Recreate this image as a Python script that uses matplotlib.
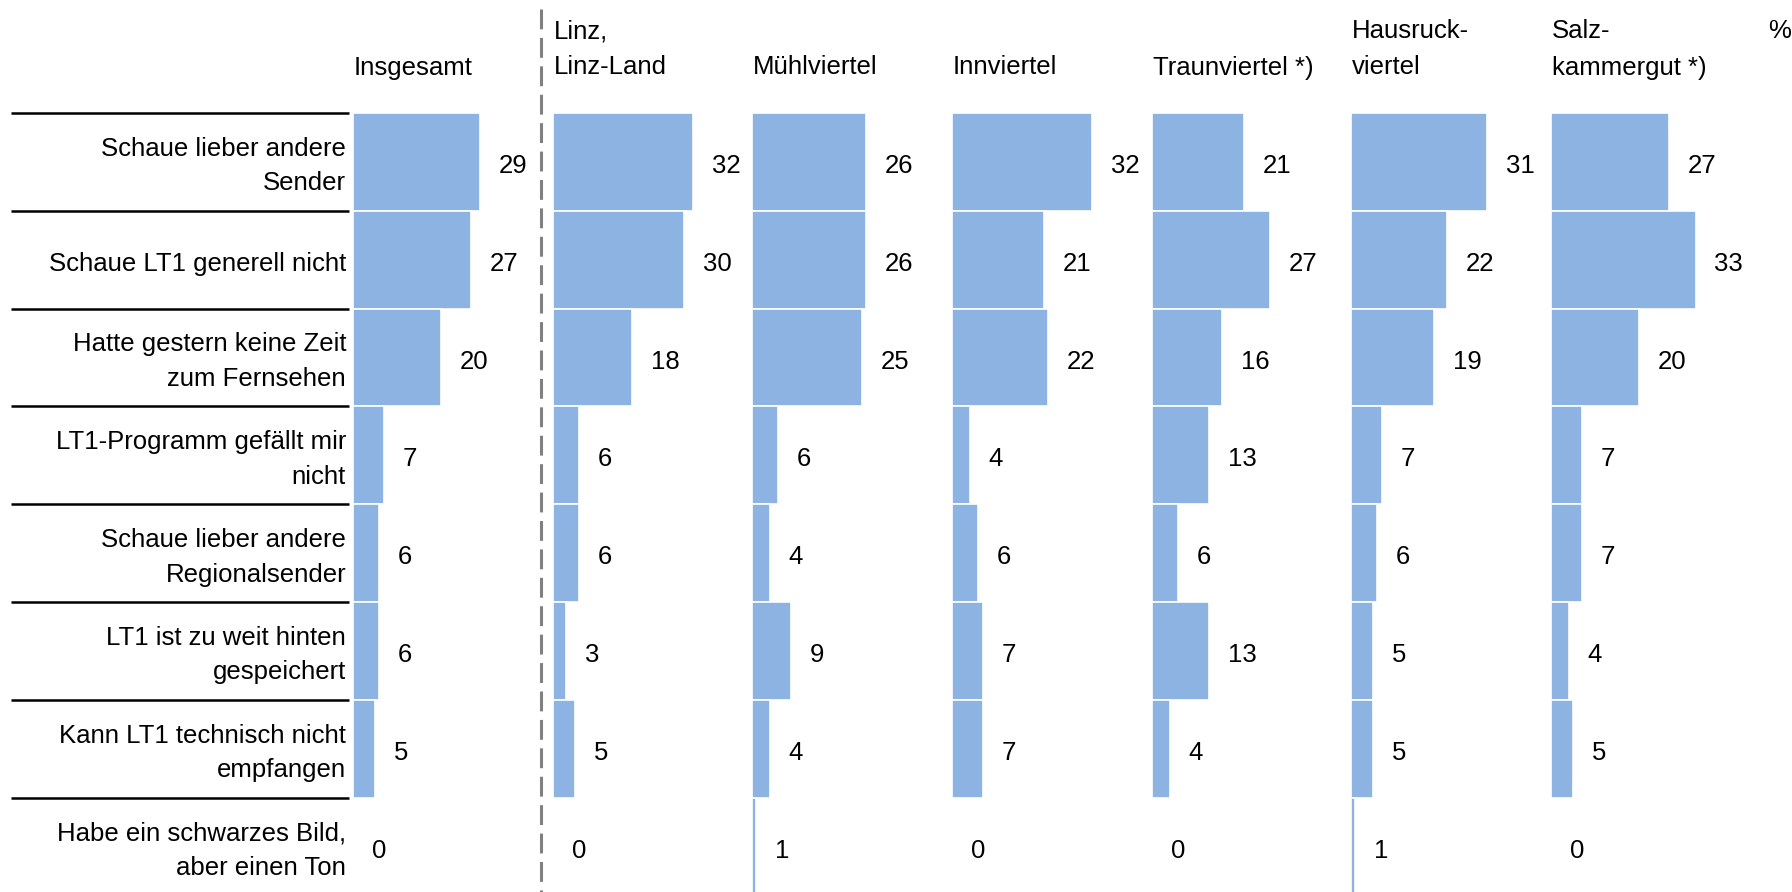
import matplotlib
matplotlib.use("Agg")
import matplotlib.pyplot as plt
from matplotlib.lines import Line2D
from matplotlib.transforms import blended_transform_factory

plt.rcParams['font.family'] = ['Liberation Sans', 'DejaVu Sans']

# Daten
gruende = [
    "Schaue lieber andere\nSender",
    "Schaue LT1 generell nicht",
    "Hatte gestern keine Zeit\nzum Fernsehen",
    "LT1-Programm gefällt mir\nnicht",
    "Schaue lieber andere\nRegionalsender",
    "LT1 ist zu weit hinten\ngespeichert",
    "Kann LT1 technisch nicht\nempfangen",
    "Habe ein schwarzes Bild,\naber einen Ton",
]
regionen = [
    "Insgesamt",
    "Linz,\nLinz-Land",
    "Mühlviertel",
    "Innviertel",
    "Traunviertel *)",
    "Hausruck-\nviertel",
    "Salz-\nkammergut *)",
]
insgesamt = [29, 27, 20, 7, 6, 6, 5, 0]
linz = [32, 30, 18, 6, 6, 3, 5, 0]
muehlviertel = [26, 26, 25, 6, 4, 9, 4, 1]
innviertel = [32, 21, 22, 4, 6, 7, 7, 0]
traunviertel = [21, 27, 16, 13, 6, 13, 4, 0]
hausruckviertel = [31, 22, 19, 7, 6, 5, 5, 1]
salzkammergut = [27, 33, 20, 7, 7, 4, 5, 0]
werte = [insgesamt, linz, muehlviertel, innviertel, traunviertel, hausruckviertel, salzkammergut]

# Layout (Pixel)
W, H = 1792, 892
FS = 18.5
farbe = '#8DB3E2'
panel_start = [353, 553, 752, 952, 1152, 1351, 1551]
panel_breite = 199.7
px_pro_einheit = 4.38
zeile_oben = 113
zeile_h = 97.8
n = len(gruende)
text_dy = -3  # Text etwas unter Zeilenmitte (Punkte)

fig = plt.figure(figsize=(W / 100, H / 100), dpi=100)

ax_bottom = 1 - (zeile_oben + n * zeile_h) / H
ax_height = n * zeile_h / H

for k, (name, vals) in enumerate(zip(regionen, werte)):
    ax = fig.add_axes([panel_start[k] / W, ax_bottom, panel_breite / W, ax_height])
    ax.barh(range(n), vals, height=1.0, color=farbe, edgecolor='white', linewidth=1.2)
    ax.set_xlim(0, panel_breite / px_pro_einheit)
    ax.set_ylim(n - 0.5, -0.5)
    ax.axis('off')
    for i, v in enumerate(vals):
        ax.annotate(str(v), xy=(v, i), xytext=(13.5, text_dy), textcoords='offset points',
                    ha='left', va='center', fontsize=FS, color='black')

    # Kopfzeile
    zeilen = name.split("\n")
    for j, z in enumerate(reversed(zeilen)):
        y_px = 67.5 - j * 36.5
        fig.text((panel_start[k] + 1) / W, 1 - y_px / H, z, ha='left', va='center',
                 fontsize=FS, color='black')

    if k == 0:
        tr = blended_transform_factory(ax.transAxes, ax.transData)
        x_rechts = (346 - panel_start[0]) / panel_breite
        for i, g in enumerate(gruende):
            teile = g.split("\n")
            offs = [12.5, -12.5] if len(teile) == 2 else [0]
            for t, o in zip(teile, offs):
                ax.annotate(t, xy=(x_rechts, i), xycoords=tr, xytext=(0, o + text_dy),
                            textcoords='offset points', ha='right', va='center',
                            fontsize=FS, color='black', annotation_clip=False)
        for i in range(n):
            ax.plot([(11 - panel_start[0]) / panel_breite, (349 - panel_start[0]) / panel_breite],
                    [i - 0.5, i - 0.5], color='black', lw=1.8, transform=tr, clip_on=False,
                    solid_capstyle='butt')

# gestrichelte Trennlinie
fig.add_artist(Line2D([541 / W, 541 / W], [1 - 9 / H, 0], color='#808080', lw=2.2,
                      linestyle=(0, (6.5, 2.8)), transform=fig.transFigure))

fig.text(1780 / W, 1 - 31 / H, "%", ha='center', va='center', fontsize=FS, color='black')

fig.savefig("out.png", dpi=100)
